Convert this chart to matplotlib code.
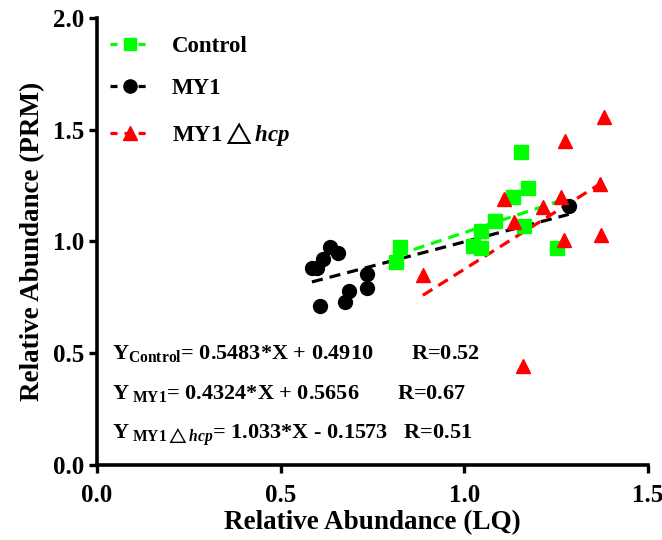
import matplotlib
matplotlib.use('Agg')
import matplotlib.pyplot as plt
import numpy as np

plt.rcParams['font.family'] = ['Liberation Serif', 'DejaVu Serif']
plt.rcParams['font.weight'] = 'bold'
plt.rcParams['mathtext.fontset'] = 'custom'
plt.rcParams['mathtext.rm'] = 'Liberation Serif:bold'
plt.rcParams['mathtext.bf'] = 'Liberation Serif:bold'
plt.rcParams['mathtext.it'] = 'Liberation Serif:italic:bold'
plt.rcParams['mathtext.bfit'] = 'Liberation Serif:italic:bold'
plt.rcParams['mathtext.fallback'] = 'stix'

# data
ctrl_x = [0.824, 0.815, 1.046, 1.024, 1.044, 1.084, 1.133, 1.153, 1.172, 1.163, 1.253]
ctrl_y = [0.977, 0.910, 1.048, 0.981, 0.970, 1.090, 1.198, 1.399, 1.238, 1.069, 0.970]

my1_x = [0.585, 0.600, 0.615, 0.635, 0.657, 0.606, 0.676, 0.685, 0.735, 0.735, 1.284]
my1_y = [0.880, 0.882, 0.919, 0.974, 0.950, 0.711, 0.731, 0.780, 0.852, 0.790, 1.159]

hcp_x = [0.887, 1.107, 1.134, 1.213, 1.262, 1.275, 1.272, 1.369, 1.372, 1.381, 1.160]
hcp_y = [0.850, 1.189, 1.086, 1.156, 1.198, 1.447, 1.007, 1.257, 1.029, 1.556, 0.443]

# regression coefficients shown on the chart
fits = {
    'ctrl': (0.5483, 0.4910),
    'my1': (0.4324, 0.5656),
    'hcp': (1.033, -0.1573),
}

fig = plt.figure(figsize=(6.62, 5.4), dpi=100)
ax = fig.add_axes([0.1465, 0.139, 0.8325, 0.828])

series = [
    (ctrl_x, ctrl_y, 'ctrl', '#00ff00', 's', 9.5, 'Control'),
    (my1_x, my1_y, 'my1', 'black', 'o', 10, 'MY1'),
    (hcp_x, hcp_y, 'hcp', '#ff0000', '^', 10, r'MY1$\triangle\mathbfit{hcp}$'),
]

handles = []
for xs, ys, key, col, mk, ms, lab in series:
    slope, icpt = fits[key]
    xx = np.array([min(xs), max(xs)])
    ax.plot(xx, slope * xx + icpt, ls=(0, (3.5, 2.2)), lw=2.3, color=col, zorder=2)
    ax.plot(xs, ys, ls='none', marker=mk, ms=ms, color=col, mec=col, zorder=3)
    h, = ax.plot([], [], ls=(0, (2.2, 2.2)), lw=2.3, color=col, marker=mk, ms=ms * 0.95, label=lab)
    handles.append(h)

ax.legend(handles=handles, loc='upper left', bbox_to_anchor=(-0.01, 1.0), frameon=False,
          fontsize=16.5, labelspacing=0.92, handlelength=1.8, handletextpad=0.9,
          borderaxespad=0.4)

eq_kw = dict(fontsize=16, fontweight='bold', va='center', ha='left')
ax.text(0.04, 0.50, r'$\mathbf{Y}_{\mathbf{Control}}$= 0.5483*X + 0.4910       R=0.52', **eq_kw)
ax.text(0.04, 0.32, r'$\mathbf{Y}_{\ \mathbf{MY1}}$= 0.4324*X + 0.5656       R=0.67', **eq_kw)
ax.text(0.04, 0.135, r'$\mathbf{Y}_{\ \mathbf{MY1}\triangle\mathbfit{hcp}}$= 1.033*X - 0.1573   R=0.51', **eq_kw)

ax.set_xlim(0, 1.5)
ax.set_ylim(0, 2.0)
ax.set_xticks([0, 0.5, 1.0, 1.5])
ax.set_yticks([0, 0.5, 1.0, 1.5, 2.0])
ax.set_xticklabels(['0.0', '0.5', '1.0', '1.5'])
ax.set_yticklabels(['0.0', '0.5', '1.0', '1.5', '2.0'])
ax.tick_params(labelsize=18, width=2.4, length=6, direction='out', pad=3)
ax.tick_params(axis='x', pad=8)
for lbl in ax.get_xticklabels() + ax.get_yticklabels():
    lbl.set_fontweight('bold')
for s in ['top', 'right']:
    ax.spines[s].set_visible(False)
for s in ['left', 'bottom']:
    ax.spines[s].set_linewidth(2.6)

ax.set_xlabel('Relative Abundance (LQ)', fontsize=19.5, fontweight='bold', labelpad=2)
ax.set_ylabel('Relative Abundance (PRM)', fontsize=19.5, fontweight='bold', labelpad=6)

fig.savefig('out.png', dpi=100)
